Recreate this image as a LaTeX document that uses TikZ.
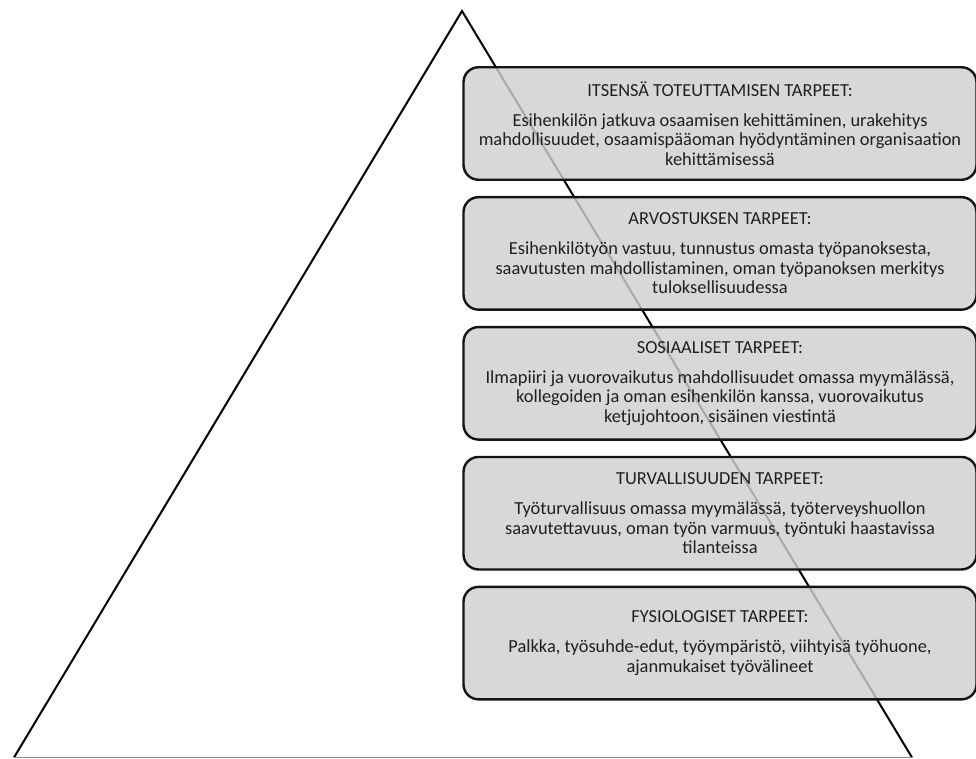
\documentclass[tikz,border=0pt]{standalone}
\usepackage{fontspec}
\setmainfont{Carlito}
\usetikzlibrary{positioning}
\tikzset{font=\fontsize{18.4}{19.5}\selectfont}
\tikzset{need/.style={draw=black!92, line width=2.4pt, rounded corners=15pt,
    fill=black!19, fill opacity=0.82, text opacity=1, text=black!88,
    align=center, minimum width=513pt, minimum height=112.5pt, inner sep=0pt}}
\tikzset{side/.style={line width=2pt}}

\begin{document}
\begin{tikzpicture}[x=1pt,y=-1pt]
  \useasboundingbox (0,0) rectangle (976,758);
  \coordinate (apex) at (462,11);
  \coordinate (leftfoot) at (14,757.5);
  \coordinate (rightfoot) at (912,757.5);
  \draw[side] (leftfoot) -- (apex) -- (rightfoot);
  \draw[line width=1.5pt, black!45] (leftfoot) -- (rightfoot);

  \node[need] (self) at (720,123.5) {ITSENSÄ TOTEUTTAMISEN TARPEET:\\[10.5pt]
    Esihenkilön jatkuva osaamisen kehittäminen, urakehitys\\
    mahdollisuudet, osaamispääoman hyödyntäminen organisaation\\
    kehittämisessä};
  \node[need, below=15pt of self] (esteem) {ARVOSTUKSEN TARPEET:\\[10.5pt]
    Esihenkilötyön vastuu, tunnustus omasta työpanoksesta,\\
    saavutusten mahdollistaminen, oman työpanoksen merkitys\\
    tuloksellisuudessa};
  \node[need, below=15pt of esteem] (social) {SOSIAALISET TARPEET:\\[10.5pt]
    Ilmapiiri ja vuorovaikutus mahdollisuudet omassa myymälässä,\\
    kollegoiden ja oman esihenkilön kanssa, vuorovaikutus\\
    ketjujohtoon, sisäinen viestintä};
  \node[need, below=15pt of social] (safety) {TURVALLISUUDEN TARPEET:\\[10.5pt]
    Työturvallisuus omassa myymälässä, työterveyshuollon\\
    saavutettavuus, oman työn varmuus, työntuki haastavissa\\
    tilanteissa};
  \node[need, below=15pt of safety] (body) {FYSIOLOGISET TARPEET:\\[10.5pt]
    Palkka, työsuhde-edut, työympäristö, viihtyisä työhuone,\\
    ajanmukaiset työvälineet};
\end{tikzpicture}
\end{document}
